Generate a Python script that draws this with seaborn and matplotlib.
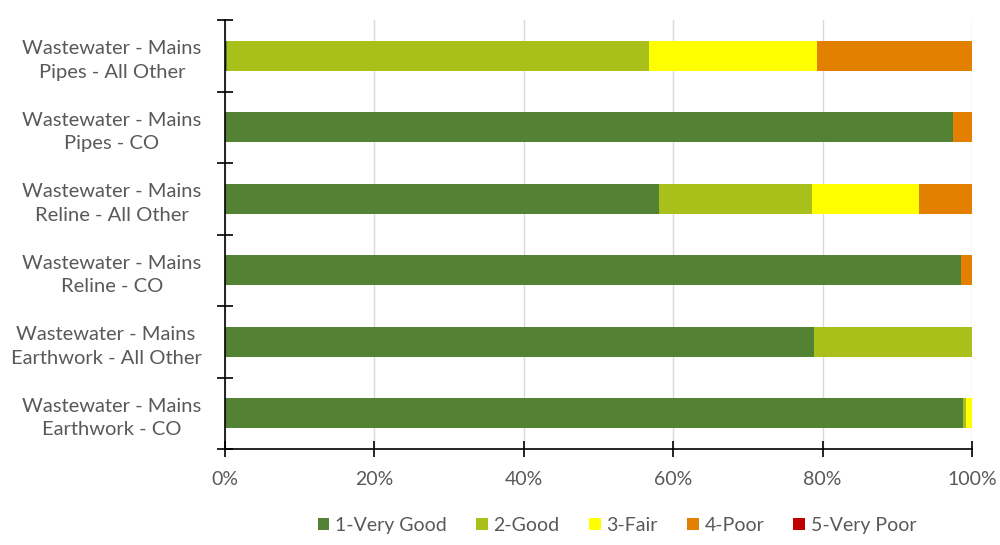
import numpy as np
import pandas as pd
import matplotlib
matplotlib.use("Agg")
import matplotlib.pyplot as plt
from matplotlib.patches import Patch
import seaborn as sns

categories = [
    "Wastewater - Mains\nPipes - All Other",
    "Wastewater - Mains\nPipes - CO",
    "Wastewater - Mains\nReline - All Other",
    "Wastewater - Mains\nReline - CO",
    "Wastewater - Mains\nEarthwork - All Other",
    "Wastewater - Mains\nEarthwork - CO",
]
conditions = ["1-Very Good", "2-Good", "3-Fair", "4-Poor", "5-Very Poor"]
very_good = [0.3, 97.5, 58.1, 98.5, 78.8, 98.8]
good = [56.4, 0.0, 20.5, 0.0, 21.2, 0.4]
fair = [22.6, 0.0, 14.3, 0.0, 0.0, 0.8]
poor = [20.7, 2.5, 7.1, 1.5, 0.0, 0.0]
very_poor = [0.0, 0.0, 0.0, 0.0, 0.0, 0.0]
colors = ["#548235", "#A9C01B", "#FFFF00", "#E38000", "#C00000"]
xticks = [0, 20, 40, 60, 80, 100]

sns.set_theme(style="white")
plt.rcParams["font.family"] = ["Lato", "DejaVu Sans"]

series = [very_good, good, fair, poor, very_poor]
df = pd.DataFrame({"category": categories})
cum = np.zeros(len(categories))
for name, vals in zip(conditions, series):
    cum = cum + np.array(vals)
    df[name] = cum

fig = plt.figure(figsize=(10, 5.45), dpi=100)
ax = fig.add_axes([0.225, 0.176, 0.747, 0.787])

# stacked bars: draw cumulative totals from the outermost segment inward
for name, col in reversed(list(zip(conditions, colors))):
    sns.barplot(data=df, y="category", x=name, orient="h", color=col,
                width=0.42, ax=ax, saturation=1, linewidth=0, zorder=3)

ax.set_xlim(0, 100)
ax.set_ylim(len(categories) - 0.5, -0.5)
ax.set_xticks(xticks)
ax.set_xticklabels([f"{t}%" for t in xticks])
ax.set_xlabel("")
ax.set_ylabel("")
ax.grid(axis="x", color="#D9D9D9", linewidth=1, zorder=0)

for s in ["top", "right"]:
    ax.spines[s].set_visible(False)
for s in ["left", "bottom"]:
    ax.spines[s].set_color("black")
    ax.spines[s].set_linewidth(1.2)
    ax.spines[s].set_zorder(5)

# category tick marks at row boundaries, crossing the axis
ax.set_yticks(np.arange(len(categories)))
ax.set_yticklabels(categories, multialignment="center", linespacing=1.45)
ax.tick_params(axis="y", which="major", left=True, length=0, pad=17, labelsize=14.5,
               labelcolor="#595959")
ax.set_yticks(np.arange(len(categories) + 1) - 0.5, minor=True)
ax.tick_params(axis="y", which="minor", left=True, direction="inout", length=12,
               width=1.2, color="black")
ax.tick_params(axis="x", which="major", bottom=True, direction="inout", length=12,
               width=1.2, color="black", labelsize=14, labelcolor="#595959", pad=10)

handles = [Patch(facecolor=c, edgecolor="none", label=n) for n, c in zip(conditions, colors)]
fig.legend(handles=handles, loc="lower center", bbox_to_anchor=(0.617, -0.012), ncol=5,
           frameon=False, fontsize=14, handlelength=0.6, handleheight=0.6,
           handletextpad=0.3, columnspacing=1.5, labelcolor="#595959")

fig.savefig("out.png", dpi=100)
